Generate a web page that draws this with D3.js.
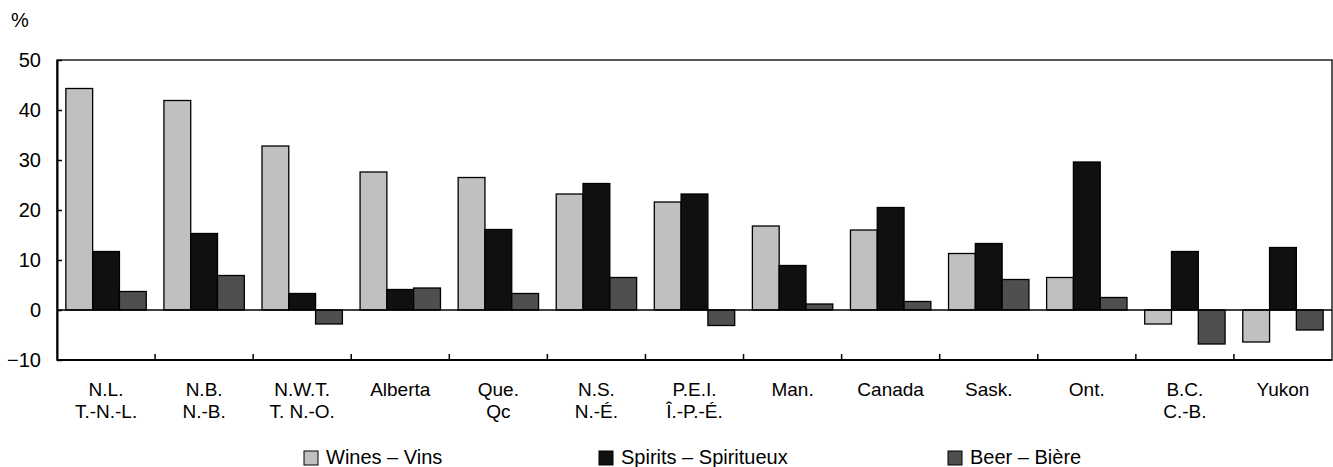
<!DOCTYPE html>
<html>
<head>
<meta charset="utf-8">
<script src="https://cdn.jsdelivr.net/npm/d3@7"></script>
<style>
body { margin: 0; background: #fff; }
text { font-family: "Liberation Sans", Arial, sans-serif; fill: #000; }
</style>
</head>
<body>
<svg width="1333" height="467"></svg>
<script>
var categories = [
    ["N.L.", "T.-N.-L."], ["N.B.", "N.-B."], ["N.W.T.", "T. N.-O."], ["Alberta", ""],
    ["Que.", "Qc"], ["N.S.", "N.-É."], ["P.E.I.", "Î.-P.-É."], ["Man.", ""],
    ["Canada", ""], ["Sask.", ""], ["Ont.", ""], ["B.C.", "C.-B."], ["Yukon", ""]
]
var wines = [44.3, 41.9, 32.8, 27.6, 26.5, 23.2, 21.6, 16.8, 16.0, 11.3, 6.5, -2.8, -6.4]
var spirits = [11.7, 15.3, 3.3, 4.1, 16.1, 25.3, 23.2, 8.9, 20.5, 13.3, 29.6, 11.7, 12.5]
var beer = [3.7, 6.9, -2.8, 4.4, 3.3, 6.5, -3.1, 1.2, 1.7, 6.1, 2.5, -6.8, -4.0]
var seriesNames = ["Wines – Vins", "Spirits – Spiritueux", "Beer – Bière"]
var yTicks = [-10, 0, 10, 20, 30, 40, 50]

var colors = ["#c0c0c0", "#101010", "#4f4f4f"]
var series = [wines, spirits, beer]

var margins = { left: 57, right: 1, top: 60, bottom: 107 }
var screen = { width: 1333, height: 467 }
var graph = {
    width: screen.width - margins.left - margins.right,
    height: screen.height - margins.top - margins.bottom
}

var svg = d3.select("svg")

var xScale = d3.scaleBand()
    .domain(d3.range(categories.length))
    .range([margins.left, margins.left + graph.width])

var inner = d3.scaleBand()
    .domain(d3.range(series.length))
    .range([0, xScale.bandwidth()])
    .paddingOuter(0.33)
    .paddingInner(0)

var yScale = d3.scaleLinear()
    .domain([-10, 50])
    .range([margins.top + graph.height, margins.top])

// bars
series.forEach(function (values, s) {
    svg.append("g")
        .selectAll("rect")
        .data(values)
        .enter()
        .append("rect")
        .attr("x", function (d, i) { return xScale(i) + inner(s) })
        .attr("width", inner.bandwidth())
        .attr("y", function (d) { return yScale(Math.max(0, d)) })
        .attr("height", function (d) { return Math.abs(yScale(d) - yScale(0)) })
        .attr("fill", colors[s])
        .attr("stroke", "#000")
        .attr("stroke-width", 1.3)
})

// frame
svg.append("rect")
    .attr("x", margins.left)
    .attr("y", margins.top)
    .attr("width", graph.width)
    .attr("height", graph.height)
    .attr("fill", "none")
    .attr("stroke", "#000")
    .attr("stroke-width", 1.3)

// zero line
svg.append("line")
    .attr("x1", margins.left)
    .attr("x2", margins.left + graph.width)
    .attr("y1", yScale(0))
    .attr("y2", yScale(0))
    .attr("stroke", "#000")
    .attr("stroke-width", 1.5)

// y axis, ticks pointing inward
var yAxis = d3.axisLeft(yScale)
    .tickValues(yTicks)
    .tickSizeInner(-5)
    .tickSizeOuter(0)
    .tickPadding(16)
var yG = svg.append("g")
    .attr("transform", "translate(" + margins.left + ",0)")
    .call(yAxis)
yG.select(".domain").attr("stroke-width", 2)
yG.selectAll(".tick line").attr("stroke-width", 1.5)
yG.selectAll("text")
    .attr("x", -16)
    .style("font-size", "20px")
    .style("font-family", "Liberation Sans, Arial, sans-serif")

// bottom axis: ticks inward between categories
var bottom = margins.top + graph.height
svg.append("line")
    .attr("x1", margins.left)
    .attr("x2", margins.left + graph.width)
    .attr("y1", bottom)
    .attr("y2", bottom)
    .attr("stroke", "#000")
    .attr("stroke-width", 2)
svg.append("g")
    .selectAll("line")
    .data(d3.range(1, categories.length))
    .enter()
    .append("line")
    .attr("x1", function (i) { return xScale(i) })
    .attr("x2", function (i) { return xScale(i) })
    .attr("y1", bottom)
    .attr("y2", bottom - 6)
    .attr("stroke", "#000")
    .attr("stroke-width", 1.5)

// category labels, two lines
var labels = svg.append("g")
    .selectAll("text")
    .data(categories)
    .enter()
    .append("text")
    .attr("text-anchor", "middle")
    .attr("x", function (d, i) { return xScale(i) + xScale.bandwidth() / 2 })
    .attr("y", 396)
    .style("font-size", "19px")
labels.append("tspan")
    .attr("x", function (d, i) { return xScale(i) + xScale.bandwidth() / 2 })
    .text(function (d) { return d[0] })
labels.append("tspan")
    .attr("x", function (d, i) { return xScale(i) + xScale.bandwidth() / 2 })
    .attr("dy", 22)
    .text(function (d) { return d[1] })

// % label
svg.append("text")
    .attr("x", 11)
    .attr("y", 27)
    .style("font-size", "20px")
    .text("%")

// legend
var legendX = [304, 599, 948]
var legend = svg.append("g")
    .selectAll("g")
    .data(seriesNames)
    .enter()
    .append("g")
    .attr("transform", function (d, i) { return "translate(" + legendX[i] + ",451)" })
legend.append("rect")
    .attr("width", 14)
    .attr("height", 14)
    .attr("fill", function (d, i) { return colors[i] })
    .attr("stroke", "#000")
    .attr("stroke-width", 1)
legend.append("text")
    .attr("x", 22)
    .attr("y", 13)
    .style("font-size", "20px")
    .text(function (d) { return d })
</script>
</body>
</html>
